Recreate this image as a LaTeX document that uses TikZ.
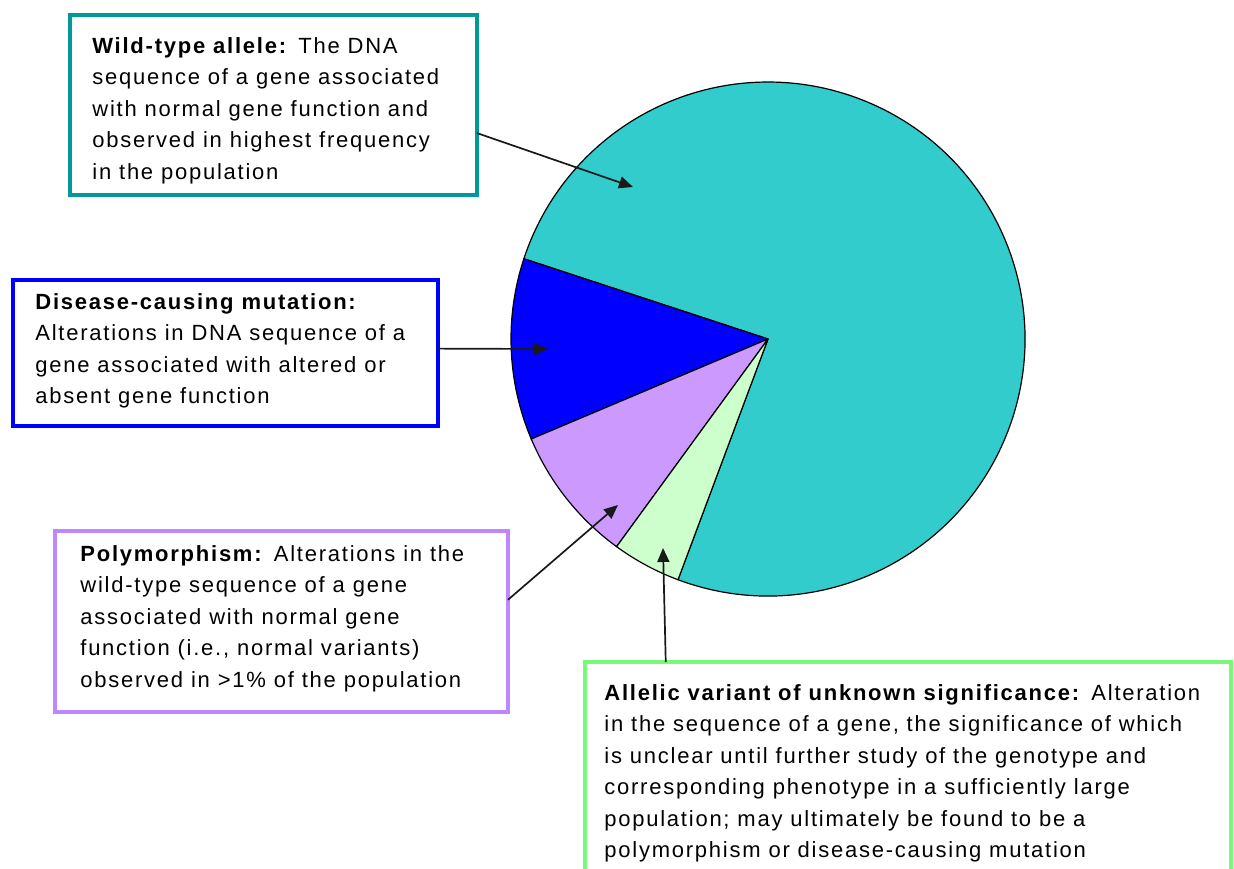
\documentclass[tikz,border=0pt]{standalone}
\usepackage{fontspec}
\setmainfont{Liberation Sans}[LetterSpace=8]
\usetikzlibrary{arrows.meta,calc}

\definecolor{wildfill}{RGB}{51,204,204}
\definecolor{wildline}{RGB}{0,153,153}
\definecolor{disfill}{RGB}{0,0,255}
\definecolor{polyfill}{RGB}{204,153,255}
\definecolor{polyline}{RGB}{190,135,255}
\definecolor{avusfill}{RGB}{204,255,204}
\definecolor{avusline}{RGB}{120,250,120}

\begin{document}
\begin{tikzpicture}[x=1pt, y=-1pt, thick,
    box/.style={draw, line width=3.5pt, anchor=north west, inner sep=0pt, outer sep=0pt},
    txt/.style={anchor=north west, align=left, inner sep=0pt, font=\fontsize{22}{31.5}\selectfont},
    slice/.style={draw=black, line width=1.2pt, line join=round},
    arr/.style={-{Triangle[length=14pt,width=12pt]}, line width=1.7pt, draw=black!90}]
    \clip (0,0) rectangle (1234,868);

    % Pie
    \coordinate (C) at (768,339);
    \filldraw[slice, fill=wildfill] (C) -- ++(249.5:257pt) arc[start angle=249.5, end angle=521.8, radius=257pt] -- cycle;
    \filldraw[slice, fill=disfill] (C) -- ++(161.8:257pt) arc[start angle=161.8, end angle=202.9, radius=257pt] -- cycle;
    \filldraw[slice, fill=polyfill] (C) -- ++(202.9:257pt) arc[start angle=202.9, end angle=233.9, radius=257pt] -- cycle;
    \filldraw[slice, fill=avusfill] (C) -- ++(233.9:257pt) arc[start angle=233.9, end angle=249.5, radius=257pt] -- cycle;

    % Boxes
    \node (wildbox) [box, draw=wildline, minimum width=407, minimum height=180] at (70,15) {};
    \node (disbox) [box, draw=disfill, minimum width=425, minimum height=146] at (13,280) {};
    \node (polybox) [box, draw=polyline, minimum width=453, minimum height=181] at (55,531) {};
    \node (avusbox) [box, draw=avusline, minimum width=646, minimum height=260] at (585,662) {};

    % Texts
    \node (wildtxt) [txt] at (92,37) {\textbf{Wild-type allele:} The DNA\\sequence of a gene associated\\with normal gene function and\\observed in highest frequency\\in the population};
    \node (distxt) [txt] at (35,293) {\textbf{Disease-causing mutation:}\\Alterations in DNA sequence of a\\gene associated with altered or\\absent gene function};
    \node (polytxt) [txt] at (80,545) {\textbf{Polymorphism:} Alterations in the\\wild-type sequence of a gene\\associated with normal gene\\function (i.e., normal variants)\\observed in >1\% of the population};
    \node (avustxt) [txt] at (604,684) {\textbf{Allelic variant of unknown significance:} Alteration\\in the sequence of a gene, the significance of which\\is unclear until further study of the genotype and\\corresponding phenotype in a sufficiently large\\population; may ultimately be found to be a\\polymorphism or disease-causing mutation};

    % Edges
    \coordinate (wildtip) at (633,187);
    \coordinate (distip) at (548,349);
    \coordinate (polytip) at (618,505);
    \coordinate (avustip) at (663,548);
    \draw[arr] ($(wildbox.north east)!0.656!(wildbox.south east)$) -- (wildtip);
    \draw[arr] ($(disbox.north east)!0.47!(disbox.south east)$) -- (distip);
    \draw[arr] ($(polybox.north east)!0.38!(polybox.south east)$) -- (polytip);
    \draw[arr] ($(avusbox.north west)!0.125!(avusbox.north east)$) -- (avustip);
\end{tikzpicture}
\end{document}
